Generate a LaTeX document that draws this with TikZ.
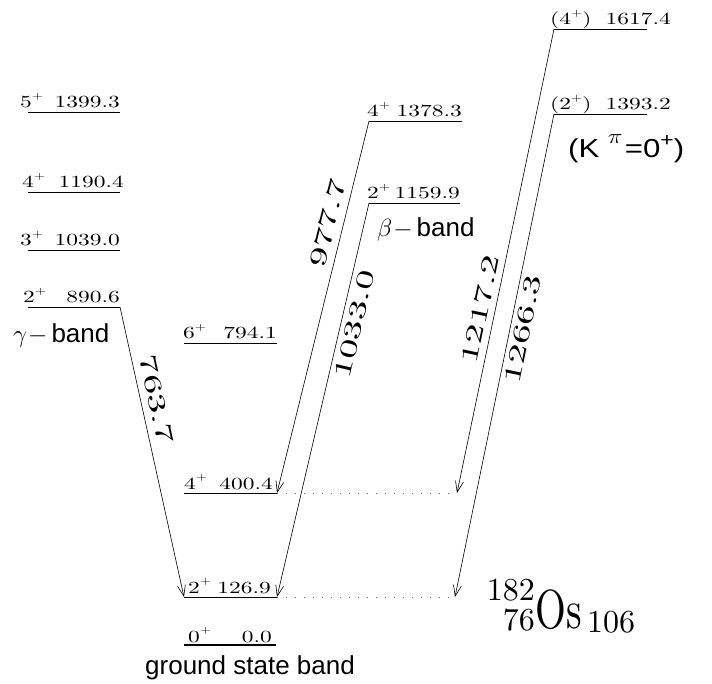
\documentclass[tikz,border=0pt]{standalone}
\usepackage{fontspec}
\usepackage{graphicx}
\usetikzlibrary{arrows.meta}
\newfontfamily\sansf{Liberation Sans}
\newfontfamily\cmten{lmroman10-regular.otf}
\newcommand{\spplus}{\raisebox{8.5pt}{\fontsize{10.5}{10.5}\selectfont +}}
\newcommand{\lvtxt}[1]{\scalebox{1.38}[1]{\cmten\fontsize{17}{17}\selectfont #1}}
\newcommand{\gtxt}[1]{\scalebox{1.65}[1]{\cmten\fontsize{24}{24}\selectfont #1}}
\newcommand{\enlevel}[8]{%
  \coordinate (#1L) at (#2,-#4);
  \coordinate (#1R) at (#3,-#4);
  \draw[lev] (#1L) -- (#1R);
  \node[spinlbl] (#1s) at (#5,-#4+4) {\lvtxt{#6}};
  \node[enlbl] (#1e) at (#7,-#4+4) {\lvtxt{#8}};
}
\tikzset{
  lev/.style={line width=0.8pt},
  spinlbl/.style={anchor=base west, inner sep=0pt},
  enlbl/.style={anchor=base east, inner sep=0pt},
  gam/.style={line width=0.6pt, -{Straight Barb[length=11pt,width=8pt]}},
  dotline/.style={black!55, line width=1pt, dash pattern=on 1pt off 8pt},
  glbl/.style={sloped, inner sep=2pt},
  bandlbl/.style={font=\sansf\fontsize{26}{26}\selectfont, inner sep=0pt, anchor=base west},
}
\begin{document}
\begin{tikzpicture}[x=1pt,y=1pt]
\useasboundingbox (0,0) rectangle (712,-684);
% gamma band
\enlevel{gA}{28}{120}{112}{20}{5\spplus}{120}{1399.3}
\enlevel{gB}{28}{120}{192}{22}{4\spplus}{124}{1190.4}
\enlevel{gC}{28}{120}{250}{20}{3\spplus}{120}{1039.0}
\enlevel{gD}{28}{120}{307}{23}{2\spplus}{120}{890.6}
% ground state band
\enlevel{sF}{184}{277}{343}{183}{6\spplus}{277}{794.1}
\enlevel{sD}{184}{277}{493}{184}{4\spplus}{273}{400.4}
\enlevel{sB}{184}{277}{597}{188}{2\spplus}{271}{126.9}
\coordinate (s0L) at (184,-645);
\coordinate (s0R) at (276,-645);
\draw[line width=2.6pt] (s0L) -- (s0R);
\node[spinlbl] (s0s) at (188,-642) {\lvtxt{0\spplus}};
\node[enlbl] (s0e) at (272,-642) {\lvtxt{0.0}};
% beta band
\enlevel{bD}{369}{462}{121}{367}{4\spplus}{462}{1378.3}
\enlevel{bB}{369}{460}{203}{367}{2\spplus}{460}{1159.9}
% K=0 band
\enlevel{kD}{554}{647}{29}{550}{(4\spplus)}{671}{1617.4}
\enlevel{kB}{554}{647}{114}{550}{(2\spplus)}{671}{1393.2}
\coordinate (kDend) at (457,-493);
\coordinate (kBend) at (455,-597);
% transitions
\draw[gam] (gDR) -- (sBL) node[glbl, pos=0.33, above=5pt] {\gtxt{763.7}};
\draw[gam] (bDL) -- (sDR) node[glbl, pos=0.285, above=5pt] {\gtxt{977.7}};
\draw[gam] (bBL) -- (sBR) node[glbl, pos=0.30, below=3pt] {\gtxt{1033.0}};
\draw[gam] (kDL) -- (kDend) node[glbl, pos=0.61, above=4pt] {\gtxt{1217.2}};
\draw[gam] (kBL) -- (kBend) node[glbl, pos=0.44, below=2pt] {\gtxt{1266.3}};
% dotted guides
\draw[dotline] (sDR) -- (kDend);
\draw[dotline] (sBR) -- (kBend);
% band labels
\node[bandlbl] (gband) at (13,-343) {{\fontsize{32}{32}\selectfont$\gamma$}\hspace{1pt}$-$\hspace{4pt}band};
\node[bandlbl] (bband) at (377,-237) {{\fontsize{30}{30}\selectfont$\beta$}\hspace{1pt}$-$\hspace{4pt}band};
\node[bandlbl] (gsband) at (145,-674) {ground state band};
\node[bandlbl] (kband) at (568,-158)
  {\scalebox{1.2}[1]{(K\hspace{7pt}\raisebox{0.55em}{\fontsize{20}{20}\selectfont$\pi$}\hspace{2pt}=0\raisebox{0.45em}{\fontsize{19}{19}\selectfont +})}};
% nucleus label
\node[anchor=base west, inner sep=0pt] (osname) at (535,-628) {\scalebox{0.72}[1]{\cmten\fontsize{55}{55}\selectfont Os}};
\node[anchor=base east, inner sep=0pt] (osA) at (535,-600) {\cmten\fontsize{32}{32}\selectfont 182};
\node[anchor=base east, inner sep=0pt] (osZ) at (535,-630) {\cmten\fontsize{32}{32}\selectfont 76};
\node[anchor=base west, inner sep=0pt] (osN) at (587,-632) {\cmten\fontsize{32}{32}\selectfont 106};
\end{tikzpicture}
\end{document}
